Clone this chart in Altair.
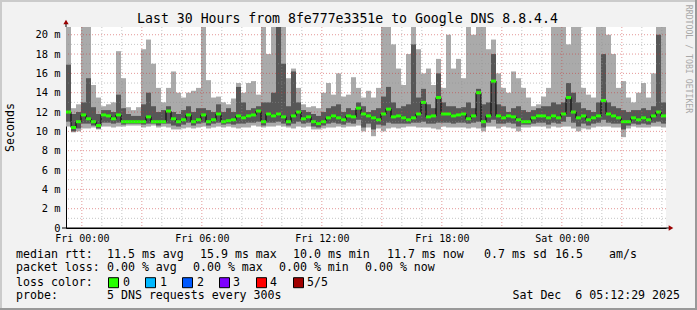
import altair as alt
import pandas as pd

# ---- data (15-minute bins, ms) ----
hi = [20.8,12.4,12.8,20.8,20.8,14.8,13.5,12.6,12.8,13.0,18.3,15.5,12.5,12.2,12.5,18.5,19.5,17.0,14.5,13.0,
      14.5,16.2,14.0,13.5,14.0,14.2,14.5,20.8,15.3,13.5,13.6,13.0,12.8,13.4,15.0,14.0,15.0,15.2,13.8,20.8,
      18.0,20.8,20.8,20.8,15.5,16.5,14.5,12.8,12.5,12.6,12.4,14.0,15.0,13.8,16.0,13.6,13.8,15.6,14.5,13.5,
      14.2,13.5,14.5,20.8,20.8,19.0,16.5,14.8,18.0,20.8,18.5,16.0,16.5,14.8,17.5,14.5,20.0,16.5,17.5,15.5,
      20.8,20.0,20.8,20.8,18.5,19.5,16.0,14.5,14.0,16.2,15.5,14.5,13.5,12.6,12.8,13.6,14.5,20.8,20.8,20.8,
      19.0,20.8,20.8,14.5,13.8,13.5,20.8,20.8,20.0,18.0,14.5,15.2,13.5,13.0,14.0,15.0,13.5,16.0,20.8,20.8]
dhi = [16.9,11.8,12.0,13.0,15.5,12.5,11.8,12.2,12.2,12.0,13.8,12.4,11.8,11.6,11.6,12.8,14.0,12.6,12.0,12.2,
       12.6,12.0,11.8,12.2,12.6,12.0,12.4,12.4,12.2,12.0,12.8,12.0,12.4,12.0,14.6,13.0,12.2,12.4,12.6,13.0,
       13.0,14.0,20.8,17.0,12.6,16.2,13.0,12.2,12.0,11.8,11.6,12.0,12.4,12.6,12.8,12.0,12.4,12.2,13.0,12.6,
       12.0,12.2,12.4,13.6,14.6,13.0,12.4,12.6,12.8,19.0,13.5,14.4,12.8,12.4,16.0,13.0,12.6,12.6,12.4,12.5,
       13.0,12.4,14.4,12.8,13.0,18.0,12.8,12.6,12.0,12.4,12.6,12.2,12.0,12.2,12.4,12.6,12.6,13.0,12.8,13.0,
       15.0,14.0,13.0,12.4,12.2,12.0,13.0,18.0,13.0,12.6,12.4,12.2,12.0,12.2,12.2,12.4,12.2,12.6,20.0,13.0]
med = [12.0,10.4,11.0,11.7,11.3,11.0,10.6,11.7,11.6,11.3,11.7,11.0,11.0,11.0,11.0,11.0,11.5,11.0,11.0,11.0,
       12.1,11.3,11.0,11.2,11.7,11.0,11.2,11.7,11.0,11.2,11.8,11.0,11.1,11.2,11.6,11.4,11.6,11.7,12.1,11.0,
       11.8,11.6,11.8,11.5,11.0,11.6,12.0,11.3,11.5,11.0,10.8,11.0,11.4,11.6,11.4,11.2,11.6,11.5,12.4,11.8,
       11.6,11.4,11.2,11.8,12.3,11.5,11.6,11.4,11.2,11.4,11.8,13.0,11.5,11.6,13.5,11.8,11.8,11.6,11.7,11.8,
       11.3,11.6,14.0,11.0,11.6,15.2,11.6,11.4,11.6,11.5,11.2,11.0,11.0,11.4,11.6,11.6,11.4,11.6,11.4,11.8,
       13.5,12.0,11.4,11.6,11.2,11.4,11.6,13.2,11.8,11.6,11.4,11.0,11.0,11.4,11.2,11.4,11.2,11.6,12.0,11.6]
dlo = [11.0,10.0,10.3,10.8,10.8,10.6,10.3,10.9,10.9,10.8,10.9,10.7,10.8,10.8,10.8,10.7,10.8,10.8,10.6,10.8,
       10.8,10.6,10.5,10.7,10.9,10.6,10.8,10.9,10.6,10.8,10.9,10.7,10.8,10.7,10.8,10.8,10.9,10.9,11.0,10.6,
       10.9,10.9,11.0,10.8,10.6,10.8,11.0,10.8,10.9,10.5,10.4,10.6,10.8,10.9,10.8,10.7,10.9,10.8,11.2,10.4,
       10.8,10.2,10.7,10.6,10.9,10.8,10.8,10.8,10.8,10.9,10.9,11.0,10.8,10.8,10.9,10.9,10.9,10.8,10.9,10.9,
       10.8,10.9,11.0,10.4,10.9,11.2,10.8,10.8,10.9,10.8,10.5,10.7,10.7,10.8,10.9,10.9,10.7,10.9,10.8,11.0,
       11.5,10.9,10.5,10.8,10.6,10.8,10.9,11.2,10.9,10.8,10.8,10.2,10.6,10.8,10.7,10.8,10.7,10.9,11.0,10.8]
lo = [10.5,9.9,10.0,10.3,10.3,10.4,10.2,10.5,10.5,10.4,10.5,10.5,10.6,10.6,10.6,10.4,10.5,10.6,10.4,10.5,
      10.4,10.2,10.2,10.3,10.4,10.3,10.4,10.5,10.3,10.4,10.5,10.4,10.5,10.4,10.3,10.4,10.4,10.6,10.5,10.4,
      10.5,10.5,10.6,10.5,10.4,10.3,10.5,10.4,10.5,10.2,10.2,10.3,10.4,10.4,10.5,10.4,10.5,10.5,10.6,10.0,
      10.4,9.5,10.3,10.0,10.3,10.4,10.3,10.4,10.5,10.5,10.4,10.4,10.4,10.3,10.2,10.5,10.4,10.4,10.4,10.4,
      10.3,10.4,10.3,10.0,10.5,10.5,10.3,10.5,10.4,10.3,10.0,10.4,10.4,10.5,10.5,10.5,10.3,10.5,10.4,10.5,
      10.5,10.3,10.0,10.3,10.2,10.4,10.5,10.5,10.5,10.4,10.4,9.4,10.3,10.5,10.4,10.4,10.4,10.5,10.5,10.4]

# time: hours relative to Fri 00:00; window Thu 23:12:29 .. Sat 05:12:29
START = -(47 + 31 / 60) / 60
END = START + 30
STEP = 0.25

x_tick_values = [0, 6, 12, 18, 24]
y_tick_values = list(range(0, 21, 2))
title_text = "Last 30 Hours from 8fe777e3351e to Google DNS 8.8.4.4"
y_title = "Seconds"
watermark = "RRDTOOL / TOBI OETIKER"
line1 = ["median rtt:", "11.5 ms avg", "15.9 ms max", "10.0 ms min", "11.7 ms now", "0.7 ms sd", "16.5", "am/s"]
line2 = ["packet loss:", "0.00 % avg", "0.00 % max", "0.00 % min", "0.00 % now"]
loss_label = "loss color:"
loss_names = ["0", "1", "2", "3", "4", "5/5"]
loss_colors = ["#26ff00", "#00b8ff", "#0059ff", "#7e00ff", "#ff0000", "#a00000"]
probe = ["probe:", "5 DNS requests every 300s", "Sat Dec\u00a0\u00a06 05:12:29 2025"]

n = len(med)
df = pd.DataFrame({
    "x0": [START + STEP * i for i in range(n)],
    "x1": [START + STEP * (i + 1) for i in range(n)],
    "xc": [START + STEP * (i + 0.5) for i in range(n)],
    "hi": hi, "dhi": dhi, "med": med, "dlo": dlo, "lo": lo,
})

MONO = "DejaVu Sans Mono"
OX, OY = 66, 27   # plot origin in page pixels

xs = alt.Scale(domain=[START, END], nice=False, zero=False)
ys = alt.Scale(domain=[0, 20.8], nice=False, zero=True)
xaxis = alt.Axis(values=x_tick_values, title=None, grid=False, ticks=False,
                 labelExpr="datum.value >= 24 ? 'Sat 00:00' : 'Fri ' + (datum.value < 10 ? '0' : '') + datum.value + ':00'",
                 labelFont=MONO, labelFontSize=10, labelColor="#000", labelPadding=5,
                 labelFlush=False, labelOverlap=False, domainColor="#000", domainWidth=1)
yaxis = alt.Axis(values=y_tick_values, title=None, grid=False, ticks=False,
                 labelExpr="datum.value == 0 ? '0' : datum.value + ' m'",
                 labelFont=MONO, labelFontSize=10.4, labelColor="#000", labelPadding=6,
                 labelFlush=False, labelOverlap=False, domainColor="#000", domainWidth=1)

def X(f):
    return alt.X(f, type="quantitative", scale=xs, axis=xaxis)

def Y(f):
    return alt.Y(f, type="quantitative", scale=ys, axis=yaxis)

base = alt.Chart(df)
light = base.mark_rect(color="#aaaaaa", clip=True).encode(x=X("x0"), x2="x1", y=Y("lo"), y2="hi")
dark = base.mark_rect(color="#575757", clip=True).encode(x=X("x0"), x2="x1", y=Y("dlo"), y2="dhi")
medline = base.mark_line(color="#000000", strokeWidth=1, interpolate="step").encode(x=X("xc"), y=Y("med"))
green = base.mark_rule(color=loss_colors[0], strokeWidth=3).encode(x=X("x0"), x2="x1", y=Y("med"))

vmaj = pd.DataFrame({"h": [h for h in range(0, 30) if h % 3 == 0]})
vmin = pd.DataFrame({"h": [h for h in range(0, 30) if h % 3 != 0]})
hmaj = pd.DataFrame({"v": [v for v in range(2, 21, 2)]})
hmin = pd.DataFrame({"v": [v for v in range(1, 21, 2)]})
gmin_v = alt.Chart(vmin).mark_rule(color="#909090", opacity=0.5, strokeDash=[1, 2]).encode(x=X("h"))
gmin_h = alt.Chart(hmin).mark_rule(color="#909090", opacity=0.5, strokeDash=[1, 2]).encode(y=Y("v"))
gmaj_v = alt.Chart(vmaj).mark_rule(color="#cc3333", opacity=0.5, strokeDash=[1, 2]).encode(x=X("h"))
gmaj_h = alt.Chart(hmaj).mark_rule(color="#cc3333", opacity=0.5, strokeDash=[1, 2]).encode(y=Y("v"))

one = pd.DataFrame({"a": [0]})

def txt(s, x, y, size=11.6, align="left", **kw):
    return alt.Chart(one).mark_text(text=s, align=align, baseline="middle", font=MONO,
                                    fontSize=size, color=kw.pop("color", "#000"), **kw).encode(
        x=alt.value(x - OX), y=alt.value(y - OY))

def box(x1, x2, y1, y2, color, **kw):
    return alt.Chart(one).mark_rect(color=color, **kw).encode(
        x=alt.value(x1 - OX), x2=alt.value(x2 - OX), y=alt.value(y1 - OY), y2=alt.value(y2 - OY))

layers = [light, dark, medline, green, gmin_v, gmin_h, gmaj_v, gmaj_h]

# axis extensions and arrows
layers.append(alt.Chart(one).mark_rule(color="#000").encode(x=alt.value(0), y=alt.value(-5), y2=alt.value(0)))
layers.append(alt.Chart(one).mark_rule(color="#000").encode(x=alt.value(-4), x2=alt.value(605), y=alt.value(201)))
layers.append(alt.Chart(one).mark_point(shape="triangle-up", filled=True, size=28, color="#990000", opacity=1)
              .encode(x=alt.value(0), y=alt.value(-5)))
layers.append(alt.Chart(one).mark_point(shape="triangle-right", filled=True, size=28, color="#990000", opacity=1)
              .encode(x=alt.value(605), y=alt.value(201)))

# frame shading
layers.append(box(0, 697, 0, 2, "#cbcbcb"))
layers.append(box(0, 2, 0, 310, "#cbcbcb"))
layers.append(box(695, 697, 0, 310, "#999999"))
layers.append(box(0, 697, 308, 310, "#999999"))

# titles
layers.append(txt(title_text, 347.5, 19, size=13.2, align="center"))
layers.append(txt(y_title, 11, 127.5, size=11.6, align="center", angle=270))
layers.append(txt(watermark, 687.5, 59, size=8.2, align="center", angle=90, color="#a8a8a8"))

# legend lines
for s, x in zip(line1, [16, 107, 200, 293, 387, 484, 555, 609]):
    layers.append(txt(s, x, 254.7))
for s, x in zip(line2, [16, 107, 193, 279, 365]):
    layers.append(txt(s, x, 268.3))
layers.append(txt(loss_label, 16, 282.7))
for name, col, bx, lx in zip(loss_names, loss_colors,
                             [108.5, 145.5, 182.5, 219.5, 256.5, 293.5],
                             [123, 160, 197, 233, 270, 307]):
    layers.append(box(bx, bx + 10, 277.7, 287.7, col, stroke="#000", strokeWidth=1))
    layers.append(txt(name, lx, 282.7))
layers.append(txt(probe[0], 16, 296))
layers.append(txt(probe[1], 107, 296))
layers.append(txt(probe[2], 680, 296, align="right"))

chart = alt.layer(*layers).properties(
    width=600, height=201,
    autosize=alt.AutoSizeParams(type="none"),
    padding={"left": OX, "top": OY, "right": 697 - OX - 600, "bottom": 310 - OY - 201},
    background="#f2f2f2",
).configure_view(fill="#ffffff", stroke=None)

chart.save("out.html", embed_options={"renderer": "svg", "actions": False})
